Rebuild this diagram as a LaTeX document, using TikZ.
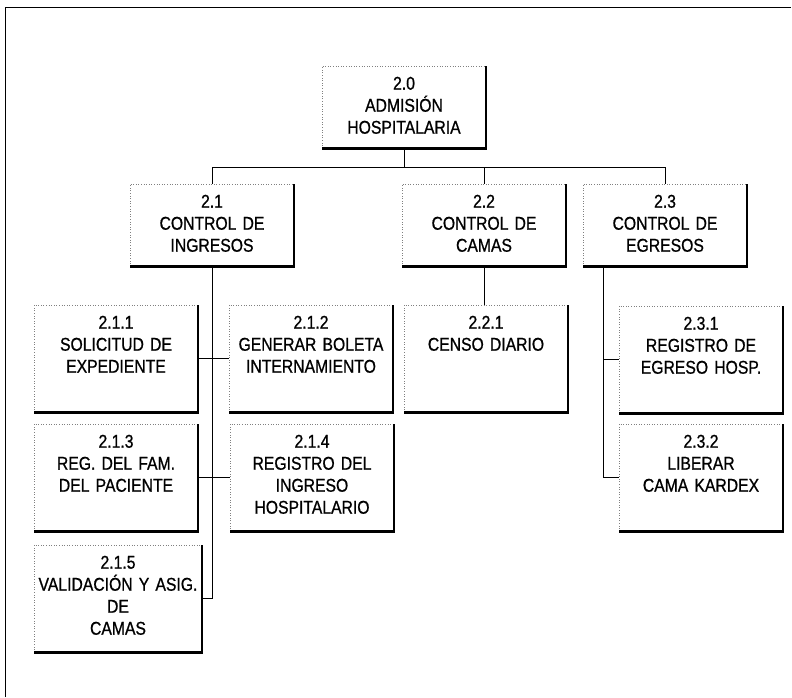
\documentclass[tikz,border=0pt]{standalone}
\usepackage{fontspec}
\setmainfont{Liberation Sans}[FakeStretch=0.85,FakeBold=0.8]

\begin{document}
\begin{tikzpicture}[x=1pt,y=-1pt,line join=miter,
    procbox/.style={anchor=north,inner xsep=2pt,inner ysep=0pt,text width=160pt,
      align=center,font=\fontsize{18.5}{22}\selectfont,text height=23.5pt},
    mainbox/.style={procbox,text depth=58.5pt},
    subbox/.style={procbox,text depth=83.5pt},
    link/.style={line width=0.9pt}]
  \useasboundingbox (0,0) rectangle (792,697);
  \draw[line width=0.9pt] (5,697) -- (5,7) -- (791,7);

  % niveles 0 y 1
  \node[mainbox] (adm) at (404,66) {2.0\\ADMISIÓN\\HOSPITALARIA};
  \node[mainbox] (ing) at (212,184) {2.1\\CONTROL DE\\INGRESOS};
  \node[mainbox] (cam) at (484,184) {2.2\\CONTROL DE\\CAMAS};
  \node[mainbox] (egr) at (665,184) {2.3\\CONTROL DE\\EGRESOS};

  % nivel 2
  \node[subbox] (sol) at (116,305) {2.1.1\\SOLICITUD DE\\EXPEDIENTE};
  \node[subbox] (bol) at (311,305) {2.1.2\\GENERAR BOLETA\\INTERNAMIENTO};
  \node[subbox] (fam) at (116,424) {2.1.3\\REG. DEL FAM.\\DEL PACIENTE};
  \node[subbox] (reg) at (312,424) {2.1.4\\REGISTRO DEL\\INGRESO\\HOSPITALARIO};
  \node[subbox,text width=164pt] (val) at (118,545) {2.1.5\\VALIDACIÓN Y ASIG.\\DE\\CAMAS};
  \node[subbox] (cen) at (486,305) {2.2.1\\CENSO DIARIO};
  \node[subbox] (ehs) at (701,306) {2.3.1\\REGISTRO DE\\EGRESO HOSP.};
  \node[subbox] (lib) at (701,424) {2.3.2\\LIBERAR\\CAMA KARDEX};

  \foreach \n in {adm,ing,cam,egr,sol,bol,fam,reg,val,cen,ehs,lib} {
    \draw[gray,dotted,line width=0.6pt] (\n.south west) |- (\n.north east);
    \draw[line width=2.2pt] (\n.north east) |- (\n.south west);
  }

  % conectores
  \draw[link] (adm.south) -- ++(0,19) coordinate (bus);
  \draw[link] (ing.north) -- (ing.north |- bus) -| (egr.north);
  \draw[link] (cam.north) -- (cam.north |- bus);
  \draw[link] (ing.south) |- (val.east);
  \draw[link] (sol.east) -- (bol.west);
  \draw[link] (fam.east) -- (reg.west);
  \draw[link] (cam.south) -- (cam.south |- cen.north);
  \coordinate (espine) at ([xshift=-62pt]egr.south);
  \draw[link] (espine) |- (lib.west);
  \draw[link] (ehs.west) -- (ehs.west -| espine);
\end{tikzpicture}
\end{document}
